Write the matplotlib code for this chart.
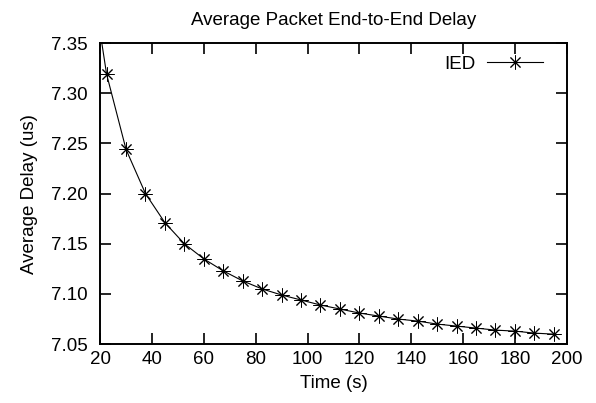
import numpy as np
import matplotlib
matplotlib.use('Agg')
from matplotlib import pyplot as plt

plt.rcParams['font.family'] = ['Liberation Sans', 'DejaVu Sans']

# time (s) and average delay (us)
time_s = [15, 22.5, 30, 37.5, 45, 52.5, 60, 67.5, 75, 82.5, 90, 97.5, 105, 112.5,
          120, 127.5, 135, 142.5, 150, 157.5, 165, 172.5, 180, 187.5, 195]
delay_us = [7.445, 7.319, 7.244, 7.200, 7.171, 7.150, 7.135, 7.123, 7.113, 7.105,
            7.099, 7.094, 7.089, 7.085, 7.081, 7.078, 7.075, 7.073, 7.070, 7.068,
            7.066, 7.064, 7.063, 7.061, 7.060]

xticks = [20, 40, 60, 80, 100, 120, 140, 160, 180, 200]
yticks = [7.05, 7.10, 7.15, 7.20, 7.25, 7.30, 7.35]

fs = 13.5

fig = plt.figure(figsize=(5.96, 4.03), dpi=100)
ax = fig.add_axes([0.168, 0.146, 0.783, 0.747])

ax.plot(time_s, delay_us, color='black', lw=0.8, marker=(8, 2, 0),
        markersize=10, markeredgewidth=0.7, label='IED')

ax.set_xlim(20, 200)
ax.set_ylim(7.05, 7.35)
ax.set_xticks(xticks)
ax.set_yticks(yticks)
ax.set_yticklabels(['%.2f' % v for v in yticks])
ax.tick_params(direction='in', length=8, width=1.2, top=True, right=True,
               labelsize=fs, pad=5, colors='black')
ax.tick_params(axis='y', pad=9)
for s in ax.spines.values():
    s.set_linewidth(1.4)

ax.set_title('Average Packet End-to-End Delay', fontsize=fs, pad=13)
ax.set_xlabel('Time (s)', fontsize=fs, labelpad=5)
ax.set_ylabel('Average Delay (us)', fontsize=fs, labelpad=9)

ax.legend(loc='upper right', frameon=False, markerfirst=False, fontsize=fs,
          handlelength=3.0, handletextpad=0.6, borderaxespad=0.5,
          bbox_to_anchor=(0.985, 1.015))

plt.savefig('out.png', dpi=100)
plt.close()
